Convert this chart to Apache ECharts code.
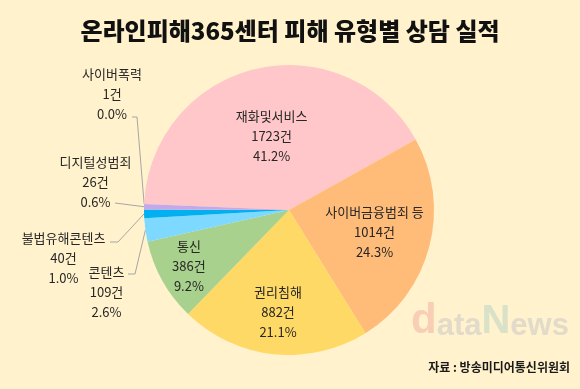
<!DOCTYPE html>
<html><head><meta charset="utf-8">
<script src="https://cdn.jsdelivr.net/npm/echarts@6/dist/echarts.min.js"></script>
<style>html,body{margin:0;padding:0;background:#FFF2CC}#c{width:580px;height:389px}</style>
</head><body><div id="c"></div>
<script>
// ---- data ----
const categories = ['재화및서비스','사이버금융범죄 등','권리침해','통신','콘텐츠','불법유해콘텐츠','디지털성범죄','사이버폭력'];
const counts = [1723, 1014, 882, 386, 109, 40, 26, 1];
const unit = '건';
const titleText = '온라인피해365센터 피해 유형별 상담 실적';
const sourceText = '자료 : 방송미디어통신위원회';

// ---- styles / layout ----
const colors = ['#FFC7C9','#FFBB78','#FFD966','#A9D18E','#7DD9FF','#00B0F0','#C6A8EA','#B4C7E7'];
const insideLabel = [true, true, true, true, false, false, false, false];
const radialScale = [1.0, 1.17, 1.36, 1.52];
const CENTER = [289, 210];
const RADIUS = 145;
const outsideLayout = {
  4: {x: 106.5, y: 292, line: [[135, 274], [128, 274]]},
  5: {x: 63.5,  y: 258, line: [[118, 242], [110, 242]]},
  6: {x: 95.5,  y: 182, line: [[115, 203]]},
  7: {x: 112,   y: 94,  line: [[137, 117], [132, 117]]}
};

const total = counts.reduce((a, b) => a + b, 0);
const chart = echarts.init(document.getElementById('c'));
const font = "'Noto Sans CJK KR', 'Noto Sans', sans-serif";

const data = categories.map((name, i) => ({
  name: name,
  value: counts[i],
  itemStyle: {color: colors[i]},
  label: {position: insideLabel[i] ? 'inside' : 'outside'},
  labelLine: {show: !insideLabel[i], lineStyle: {color: '#A6A6A6', width: 1}}
}));

chart.setOption({
  backgroundColor: '#FFF2CC',
  animation: false,
  title: {
    text: titleText,
    left: 'center',
    top: 14,
    textStyle: {fontFamily: font, fontSize: 24, fontWeight: 900, color: '#111'}
  },
  graphic: [
    {
      type: 'text', right: 10, top: 361,
      style: {text: sourceText, font: "bold 12px 'Noto Sans CJK KR', sans-serif", fill: '#1a1a1a'}
    },
    {
      type: 'text', left: 411, top: 300, silent: true,
      style: {
        text: '{d|d}{a|ata}{n|N}{a|ews}',
        rich: {
          d: {fontSize: 42, fontWeight: 'bold', fontFamily: 'Liberation Sans', fill: '#F8CFB6', verticalAlign: 'bottom', lineHeight: 40},
          a: {fontSize: 31, fontWeight: 'bold', fontFamily: 'Liberation Sans', fill: '#E2DBCA', verticalAlign: 'bottom', lineHeight: 40},
          n: {fontSize: 40, fontWeight: 'bold', fontFamily: 'Liberation Sans', fill: '#D9E2C9', verticalAlign: 'bottom', lineHeight: 40}
        }
      }
    }
  ],
  series: [{
    type: 'pie',
    center: CENTER,
    radius: RADIUS,
    startAngle: 177.5,
    clockwise: true,
    avoidLabelOverlap: false,
    label: {
      show: true,
      fontFamily: font,
      fontSize: 13,
      lineHeight: 20,
      color: '#262626',
      align: 'center',
      formatter: p => p.name + '\n' + p.value + unit + '\n' + (p.value / total * 100).toFixed(1) + '%'
    },
    labelLine: {show: true, length: 10, length2: 10},
    labelLayout: function (params) {
      const i = params.dataIndex;
      const r = params.labelRect;
      if (insideLabel[i]) {
        const cx = r.x + r.width / 2, cy = r.y + r.height / 2;
        const s = radialScale[i];
        return {
          x: CENTER[0] + (cx - CENTER[0]) * s,
          y: CENTER[1] + (cy - CENTER[1]) * s,
          align: 'center', verticalAlign: 'middle'
        };
      }
      const o = outsideLayout[i];
      const start = params.labelLinePoints ? params.labelLinePoints[0] : [CENTER[0] - RADIUS, CENTER[1]];
      return {
        x: o.x, y: o.y, align: 'center', verticalAlign: 'middle',
        labelLinePoints: [start].concat(o.line)
      };
    },
    data: data
  }]
});
</script>
</body></html>
